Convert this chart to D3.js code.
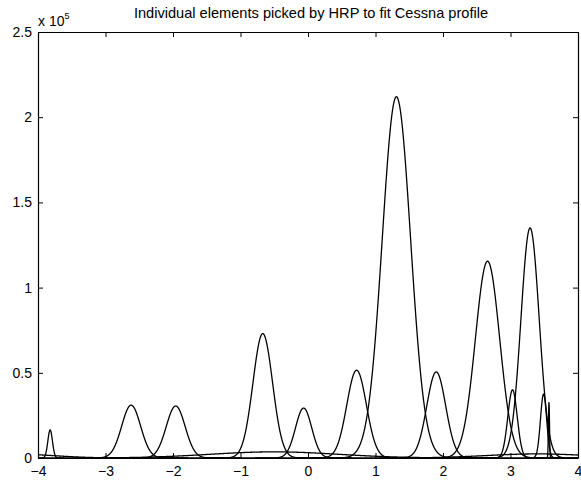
<!DOCTYPE html>
<html>
<head>
<meta charset="utf-8">
<script src="https://cdn.jsdelivr.net/npm/d3@7"></script>
<style>
  html, body { margin: 0; padding: 0; background: #fff; }
  svg { display: block; }
  text { font-family: "Liberation Sans", Arial, Helvetica, sans-serif; fill: #000; }
</style>
</head>
<body>
<svg id="chart" width="581" height="480"></svg>
<script>
// Gaussian elements chosen by HRP: centre, peak height, width (std. dev.)
const centers    = [-3.82, -2.62, -1.96, -0.67, -0.065, 0.72, 1.31, 1.90, 2.66, 3.03, 3.29, 3.49, 3.57, -4.3, -0.5, 3.4];
const amplitudes = [16500, 31000, 30500, 73000, 29300, 51500, 212000, 50500, 115500, 40000, 135000, 37500, 32500, 2200, 3600, 2400];
const widths     = [0.034, 0.140, 0.140, 0.145, 0.120, 0.145, 0.210, 0.140, 0.180, 0.070, 0.135, 0.046, 0.008, 0.55, 0.95, 0.75];

const xTicks = [-4, -3, -2, -1, 0, 1, 2, 3, 4];
const yTicks = [0, 0.5e5, 1e5, 1.5e5, 2e5, 2.5e5];
const yTickLabels = ["0", "0.5", "1", "1.5", "2", "2.5"];
const title = "Individual elements picked by HRP to fit Cessna profile";

const svg = d3.select("#chart");
const m = { left: 38, right: 3, top: 32, bottom: 22 };
const W = 581, H = 480;

const x = d3.scaleLinear().domain([-4, 4]).range([m.left, W - m.right]);
const y = d3.scaleLinear().domain([0, 2.5e5]).range([H - m.bottom, m.top]);

// curves
const line = d3.line().x(d => x(d[0])).y(d => y(d[1])).curve(d3.curveLinear);
svg.append("clipPath").attr("id", "plotclip")
  .append("rect").attr("x", m.left).attr("y", m.top - 2)
  .attr("width", W - m.right - m.left).attr("height", H - m.bottom - m.top + 2);

const g = svg.append("g").attr("clip-path", "url(#plotclip)");
const nSamples = 3200;
centers.forEach((c, i) => {
  const a = amplitudes[i], s = widths[i];
  const lo = Math.max(-4, c - 6 * s), hi = Math.min(4, c + 6 * s);
  const pts = d3.range(nSamples + 1).map(k => {
    const xv = lo + (hi - lo) * k / nSamples;
    return [xv, a * Math.exp(-0.5 * ((xv - c) / s) ** 2)];
  });
  g.append("path").datum(pts).attr("d", line)
    .attr("fill", "none").attr("stroke", "#000").attr("stroke-width", 1.3);
});

// axes box with inward ticks
const axBottom = d3.axisBottom(x).tickValues(xTicks).tickSizeInner(-5).tickSizeOuter(0)
  .tickFormat(d => d < 0 ? "\u2212" + Math.abs(d) : String(d)).tickPadding(8);
const axTop = d3.axisTop(x).tickValues(xTicks).tickSizeInner(-5).tickSizeOuter(0).tickFormat("");
const axLeft = d3.axisLeft(y).tickValues(yTicks).tickSizeInner(-5).tickSizeOuter(0)
  .tickFormat((d, i) => yTickLabels[i]).tickPadding(6);
const axRight = d3.axisRight(y).tickValues(yTicks).tickSizeInner(-5).tickSizeOuter(0).tickFormat("");

function styleAxis(sel) {
  sel.selectAll(".domain").attr("stroke", "#000").attr("stroke-width", 1.2);
  sel.selectAll(".tick line").attr("stroke", "#000");
  sel.selectAll("text").attr("font-size", 14).attr("fill", "#000")
    .style("font-family", '"Liberation Sans", Arial, sans-serif');
}
svg.append("g").attr("transform", `translate(0,${H - m.bottom})`).call(axBottom).call(styleAxis);
svg.append("g").attr("transform", `translate(0,${m.top})`).call(axTop).call(styleAxis);
svg.append("g").attr("transform", `translate(${m.left},0)`).call(axLeft).call(styleAxis);
svg.append("g").attr("transform", `translate(${W - m.right},0)`).call(axRight).call(styleAxis);

// exponent label
const ex = svg.append("text").attr("x", 38).attr("y", 26).attr("font-size", 14);
ex.append("tspan").text("x 10");
ex.append("tspan").attr("dy", -7).attr("font-size", 9).text("5");

// title
svg.append("text").attr("x", (m.left + W - m.right) / 2 + 3).attr("y", 18)
  .attr("text-anchor", "middle").attr("font-size", 14.6).text(title);
</script>
</body>
</html>
